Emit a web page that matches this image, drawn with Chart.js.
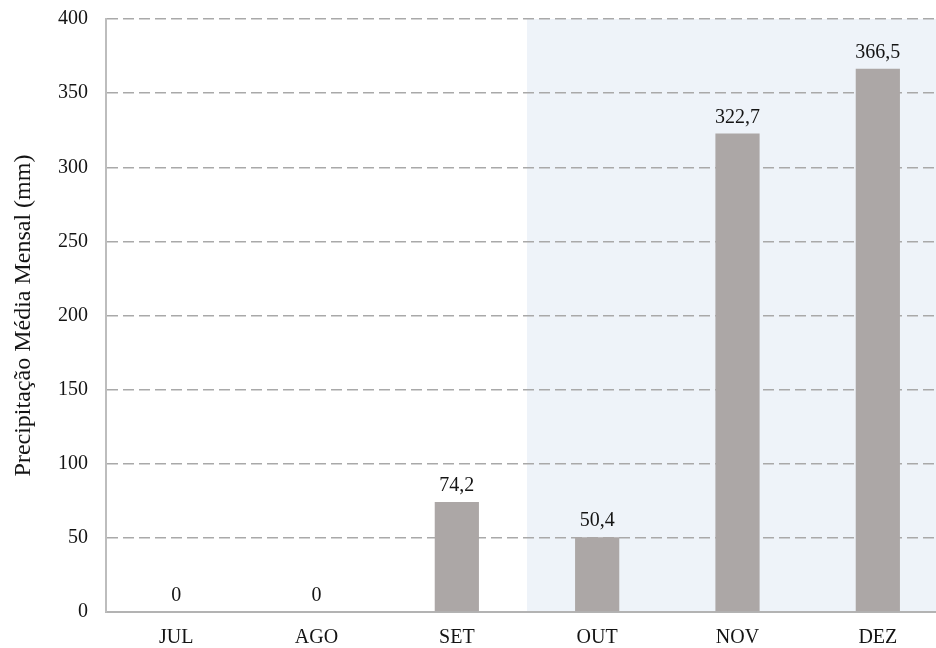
<!DOCTYPE html>
<html>
<head>
<meta charset="utf-8">
<script src="https://cdn.jsdelivr.net/npm/chart.js"></script>
<style>
  html, body { margin: 0; padding: 0; background: #fff; overflow: hidden; }
  #wrap { width: 960px; height: 648px; }
</style>
</head>
<body>
<div id="wrap"><canvas id="chuvaChart" width="960" height="648"></canvas></div>
<script>
// Precipitação média mensal, julho a dezembro
const meses = ['JUL', 'AGO', 'SET', 'OUT', 'NOV', 'DEZ'];
const precipitacao = [0, 0, 74.2, 50.4, 322.7, 366.5];
const yTicks = [0, 50, 100, 150, 200, 250, 300, 350, 400];
const inicioPeriodoChuvoso = 3; // OUT em diante fica sombreado

const fonte = "'Liberation Serif', 'Times New Roman', serif";

// faixa azulada atrás do período chuvoso
const faixaChuvosa = {
    id: 'faixaChuvosa',
    beforeDraw(chart) {
        const { ctx, chartArea, scales } = chart;
        const x = (scales.x.getPixelForValue(inicioPeriodoChuvoso - 1) +
                   scales.x.getPixelForValue(inicioPeriodoChuvoso)) / 2;
        ctx.save();
        ctx.fillStyle = '#eef3f9';
        ctx.fillRect(x, chartArea.top, chartArea.right - x, chartArea.bottom - chartArea.top);
        ctx.restore();
    }
};

// rótulos com vírgula decimal acima das barras
const rotulos = {
    id: 'rotulos',
    afterDatasetsDraw(chart) {
        const { ctx } = chart;
        const meta = chart.getDatasetMeta(0);
        ctx.save();
        ctx.font = '20px ' + fonte;
        ctx.fillStyle = '#141414';
        ctx.textAlign = 'center';
        ctx.textBaseline = 'alphabetic';
        meta.data.forEach((bar, i) => {
            const v = precipitacao[i];
            const txt = v === 0 ? '0' : v.toFixed(1).replace('.', ',');
            ctx.fillText(txt, bar.x, bar.y - 11);
        });
        ctx.restore();
    }
};

new Chart(document.getElementById('chuvaChart'), {
    type: 'bar',
    data: {
        labels: meses,
        datasets: [{
            data: precipitacao,
            backgroundColor: '#aca7a6',
            borderWidth: 0,
            barPercentage: 0.315,
            categoryPercentage: 1
        }]
    },
    options: {
        responsive: false,
        animation: false,
        layout: { padding: { top: 19, right: 12, left: 0, bottom: 0 } },
        plugins: {
            legend: { display: false },
            tooltip: { enabled: false }
        },
        scales: {
            x: {
                grid: { display: false, drawTicks: false },
                border: { color: '#b3b3b3', width: 2 },
                ticks: { color: '#141414', font: { family: fonte, size: 20 }, padding: 14 },
                afterFit(scale) { scale.height = 36; }
            },
            y: {
                min: 0,
                max: 400,
                afterBuildTicks(scale) { scale.ticks = yTicks.map(v => ({ value: v })); },
                grid: { color: '#a9a9a9', lineWidth: 1.5, drawTicks: false },
                border: { color: '#bdbdbd', width: 2, dash: [11, 5] },
                ticks: { color: '#141414', font: { family: fonte, size: 20 }, padding: 18 },
                title: {
                    display: true,
                    text: 'Precipitação Média Mensal (mm)',
                    color: '#141414',
                    font: { family: fonte, size: 24 },
                    padding: { top: 9, bottom: 0 }
                },
                afterFit(scale) {
                    scale.width = 106;
                    scale.paddingTop = 0;
                    scale.paddingBottom = 0;
                }
            }
        }
    },
    plugins: [faixaChuvosa, rotulos]
});
</script>
</body>
</html>
